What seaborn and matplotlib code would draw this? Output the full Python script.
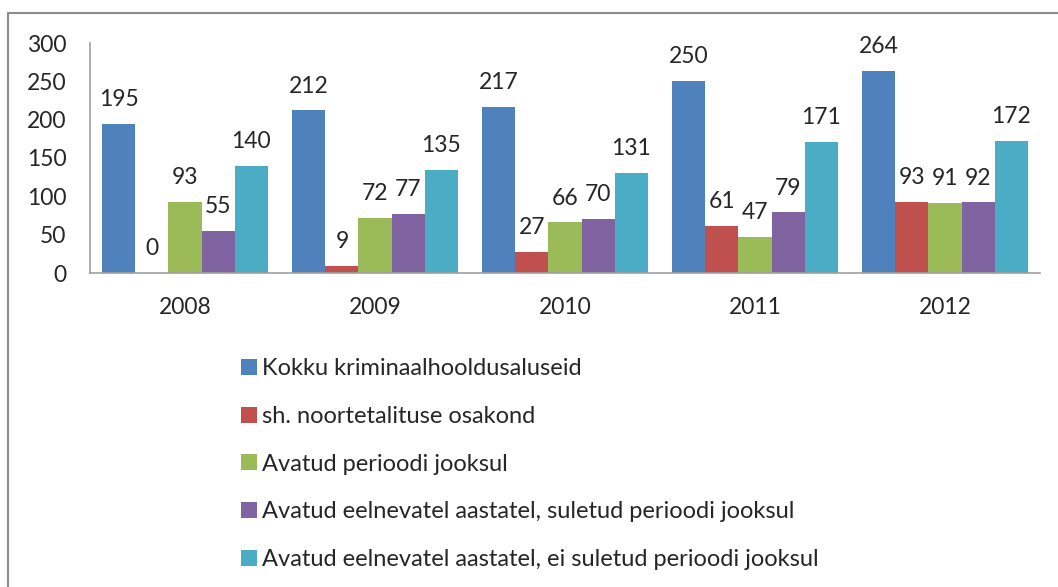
import pandas as pd
import matplotlib
matplotlib.use('Agg')
import matplotlib.pyplot as plt
import seaborn as sns
from matplotlib.lines import Line2D

# data
years = ['2008', '2009', '2010', '2011', '2012']
series = [
    'Kokku kriminaalhooldusaluseid',
    'sh. noortetalituse osakond',
    'Avatud perioodi jooksul',
    'Avatud eelnevatel aastatel, suletud perioodi jooksul',
    'Avatud eelnevatel aastatel, ei suletud perioodi jooksul',
]
kokku = [195, 212, 217, 250, 264]
noorte = [0, 9, 27, 61, 93]
avatud = [93, 72, 66, 47, 91]
suletud = [55, 77, 70, 79, 92]
ei_suletud = [140, 135, 131, 171, 172]
colors = ['#4F81BD', '#C0504D', '#9BBB59', '#8064A2', '#4BACC6']

rows = []
for name, vals in zip(series, [kokku, noorte, avatud, suletud, ei_suletud]):
    for y, v in zip(years, vals):
        rows.append((y, name, v))
df = pd.DataFrame(rows, columns=['Year', 'Series', 'Value'])

sns.set_style('white')
plt.rcParams['font.family'] = ['Lato', 'DejaVu Sans']

fig = plt.figure(figsize=(10.58, 5.87), dpi=100)
ax = fig.add_axes([90 / 1058, 1 - 273 / 587, 950 / 1058, 230 / 587])

sns.barplot(data=df, x='Year', y='Value', hue='Series', palette=colors,
            width=0.87, gap=0, ax=ax, legend=True, saturation=1,
            edgecolor='none')

for cont in ax.containers:
    ax.bar_label(cont, fmt='%d', padding=10, fontsize=16.5)

ax.set_ylim(0, 300)
ax.set_xlim(-0.5, 4.5)
ax.set_yticks(range(0, 301, 50))
ax.set_xlabel('')
ax.set_ylabel('')
ax.tick_params(axis='both', length=0, labelsize=16.5)
ax.tick_params(axis='x', pad=17)
ax.tick_params(axis='y', pad=17)
for s in ['top', 'right']:
    ax.spines[s].set_visible(False)
for s in ['left', 'bottom']:
    ax.spines[s].set_color('#a0a0a0')
    ax.spines[s].set_linewidth(1.2)

handles, labels = ax.get_legend_handles_labels()
ax.legend_.remove()
fig.legend(handles, labels, loc='upper left', bbox_to_anchor=(220 / 1058, 1 - 337 / 587),
           frameon=False, fontsize=17, handlelength=0.65, handleheight=0.65,
           handletextpad=0.25, labelspacing=1.13)

# chart area border (left and top visible)
fig.add_artist(Line2D([8 / 1058, 8 / 1058], [0, 1 - 13 / 587], color='#8c8c8c', lw=1.5))
fig.add_artist(Line2D([8 / 1058, 1], [1 - 13 / 587, 1 - 13 / 587], color='#8c8c8c', lw=1.5))

fig.savefig('out.png', dpi=100)
